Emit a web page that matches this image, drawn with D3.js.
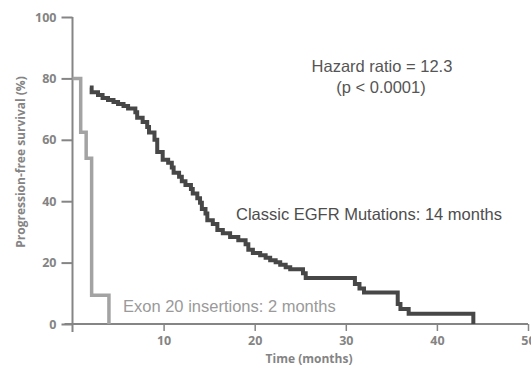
<!DOCTYPE html>
<html>
<head>
<meta charset="utf-8">
<script src="https://cdn.jsdelivr.net/npm/d3@7"></script>
<style>
  html, body { margin: 0; padding: 0; background: #ffffff; }
  svg { display: block; }
</style>
</head>
<body>
<svg id="chart" width="531" height="369"></svg>
<script>
// Kaplan–Meier progression-free survival, two cohorts.
// Each pair is (month of drop, survival % after the drop).
const classicMonths = [1.9, 2.1, 2.8, 3.3, 3.9, 4.5, 5.0, 5.6, 6.1, 6.9, 7.1, 7.7, 8.2, 8.4, 9.0, 9.3,
  9.9, 10.5, 10.9, 11.1, 11.7, 12.0, 12.4, 13.0, 13.2, 13.7, 14.0, 14.2, 14.6, 14.8, 15.4, 15.9,
  16.5, 17.3, 18.2, 19.0, 19.3, 19.8, 20.6, 21.2, 21.7, 22.3, 22.8, 23.4, 23.9, 25.3, 25.6,
  31.0, 31.5, 32.0, 35.7, 36.0, 36.9, 44.0];
const classicPfs = [77.0, 75.5, 74.6, 73.6, 73.0, 72.3, 71.7, 71.0, 70.2, 69.0, 67.2, 65.8, 64.2, 62.4, 60.0, 56.0,
  53.5, 52.5, 51.0, 49.3, 48.0, 46.5, 45.3, 44.0, 42.5, 41.0, 39.5, 37.5, 36.0, 33.8, 32.6, 30.6,
  29.6, 28.3, 27.3, 26.0, 24.2, 23.1, 22.4, 21.6, 20.8, 20.1, 19.3, 18.5, 17.8, 16.5, 15.0,
  13.0, 11.6, 10.3, 6.5, 4.9, 3.3, 0];

const exonMonths = [0, 0.9, 1.5, 2.1, 4.0];
const exonPfs = [80, 62.5, 54, 9.4, 0];

const yTicks = [0, 20, 40, 60, 80, 100];
const xTicks = [10, 20, 30, 40, 50];

const hazardLines = ["Hazard ratio = 12.3", "(p < 0.0001)"];
const classicLabel = "Classic EGFR Mutations: 14 months";
const exonLabel = "Exon 20 insertions: 2 months";
const yTitle = "Progression-free survival (%)";
const xTitle = "Time (months)";

const svg = d3.select("#chart");
const x = d3.scaleLinear().domain([0, 50]).range([72.5, 528]);
const y = d3.scaleLinear().domain([0, 100]).range([324, 17]);

const axisColor = "#858585";
const labelColor = "#848484";
const tickFont = "'Open Sans', 'DejaVu Sans', sans-serif";
const textFont = "'Liberation Sans', Arial, sans-serif";

// Y axis: line from top down past the x axis, ticks to the left
const yAxis = svg.append("g").attr("transform", `translate(${x(0)},0)`)
  .call(d3.axisLeft(y).tickValues(yTicks).tickSize(11).tickPadding(5).tickSizeOuter(0));
yAxis.select(".domain").remove();
yAxis.append("line")
  .attr("x1", 0).attr("x2", 0).attr("y1", y(100)).attr("y2", y(0) + 8)
  .attr("stroke", axisColor).attr("stroke-width", 2);
yAxis.selectAll(".tick line").attr("stroke", axisColor).attr("stroke-width", 2);
yAxis.selectAll(".tick text")
  .attr("fill", labelColor).attr("font-family", tickFont)
  .attr("font-size", 12.5).attr("font-weight", 700);

// X axis: ticks below the line
const xAxis = svg.append("g").attr("transform", `translate(0,${y(0)})`)
  .call(d3.axisBottom(x).tickValues(xTicks).tickSize(7).tickPadding(5).tickSizeOuter(0));
xAxis.select(".domain").remove();
xAxis.append("line")
  .attr("x1", x(0) - 8).attr("x2", x(50)).attr("y1", 0).attr("y2", 0)
  .attr("stroke", axisColor).attr("stroke-width", 2);
xAxis.selectAll(".tick line").attr("stroke", axisColor).attr("stroke-width", 1.5);
xAxis.selectAll(".tick text")
  .attr("fill", labelColor).attr("font-family", tickFont)
  .attr("font-size", 12.5).attr("font-weight", 700);

// Axis titles
svg.append("text")
  .attr("transform", `translate(22,162) rotate(-90)`)
  .attr("text-anchor", "middle").attr("dominant-baseline", "middle")
  .attr("fill", labelColor).attr("font-family", tickFont)
  .attr("font-size", 12).attr("font-weight", 700)
  .text(yTitle);
svg.append("text")
  .attr("x", 309).attr("y", 363)
  .attr("text-anchor", "middle")
  .attr("fill", labelColor).attr("font-family", tickFont)
  .attr("font-size", 12).attr("font-weight", 700)
  .text(xTitle);

// Survival curves
const step = d3.line().x(d => x(d[0])).y(d => y(d[1])).curve(d3.curveStepAfter);

svg.append("path")
  .datum(exonMonths.map((m, i) => [m, exonPfs[i]]))
  .attr("d", step)
  .attr("fill", "none").attr("stroke", "#a3a3a3").attr("stroke-width", 3.5);

svg.append("path")
  .datum(classicMonths.map((m, i) => [m, classicPfs[i]]))
  .attr("d", step)
  .attr("fill", "none").attr("stroke", "#474747").attr("stroke-width", 4)
  .attr("stroke-linejoin", "miter");

// Annotations
svg.append("text")
  .attr("x", 382).attr("y", 72).attr("text-anchor", "middle")
  .attr("fill", "#555").attr("font-family", textFont).attr("font-size", 16.5)
  .text(hazardLines[0]);
svg.append("text")
  .attr("x", 381).attr("y", 93).attr("text-anchor", "middle")
  .attr("fill", "#555").attr("font-family", textFont).attr("font-size", 16.5)
  .text(hazardLines[1]);
svg.append("text")
  .attr("x", 236).attr("y", 220)
  .attr("fill", "#4d4d4d").attr("font-family", textFont).attr("font-size", 16.5)
  .text(classicLabel);
svg.append("text")
  .attr("x", 123).attr("y", 312)
  .attr("fill", "#9a9a9a").attr("font-family", textFont).attr("font-size", 16.5)
  .text(exonLabel);
</script>
</body>
</html>
